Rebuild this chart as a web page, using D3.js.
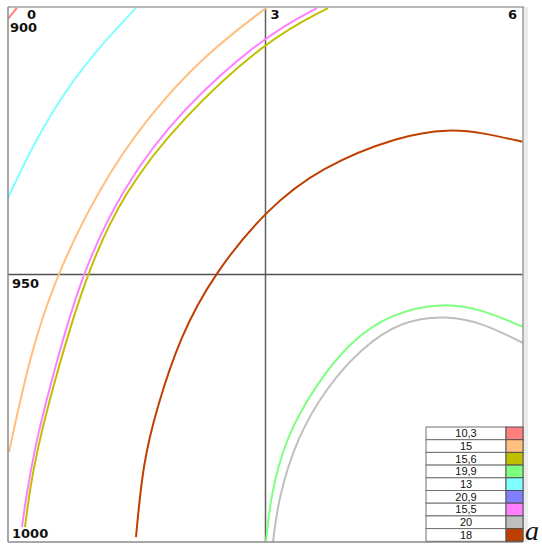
<!DOCTYPE html>
<html>
<head>
<meta charset="utf-8">
<script src="https://cdn.jsdelivr.net/npm/d3@7"></script>
<style>
  body { margin: 0; background: #fff; }
  svg { display: block; }
  .tick-label { font-family: "DejaVu Sans", Verdana, sans-serif; font-weight: bold; font-size: 13px; fill: #111; }
  .legend-label { font-family: "Liberation Sans", Arial, sans-serif; font-size: 11px; fill: #111; }
</style>
</head>
<body>
<svg id="chart" width="542" height="546"></svg>
<script>
// series labels and colours, in legend order
const seriesNames = ['10,3', '15', '15,6', '19,9', '13', '20,9', '15,5', '20', '18'];
const seriesColors = ['#ff7f7f', '#ffbf7f', '#bfbf00', '#7fff7f', '#7fffff', '#7f7fff', '#ff7fff', '#bfbfbf', '#bf3f00'];

// points: [x, y]
const s103 = [[0, 902.2], [0.11, 900]];
const s15 = [[3.006, 900.2], [2.284, 909.0], [1.619, 920.7], [1.072, 933.5], [0.559, 950.3], [0.256, 965.0], [0.012, 983.2]];
const s156 = [[3.728, 900.2], [3.006, 906.2], [2.004, 921.1], [1.34, 934.8], [0.897, 950.3], [0.489, 972.9], [0.35, 982.2], [0.256, 989.9], [0.198, 997.2]];
const s199 = [[3.006, 1000], [3.052, 992.1], [3.227, 980.6], [3.6, 970.3], [3.985, 962.6], [4.451, 957.3], [5.068, 955.2], [5.534, 956.6], [6.0, 959.8]];
const s13 = [[0, 935.7], [0.373, 923.0], [0.896, 910.3], [1.49, 900.2]];
const s209 = [];
const s155 = [[3.6, 900.2], [3.006, 905.2], [2.004, 919.3], [1.34, 933.6], [0.839, 950.3], [0.455, 972.9], [0.315, 982.2], [0.21, 991.6], [0.163, 997.2]];
const s20 = [[3.088, 1000], [3.146, 992.1], [3.367, 980.4], [3.717, 971], [4.101, 964.0], [4.567, 958.7], [5.115, 957.6], [5.534, 959.1], [6.0, 962.8]];
const s18 = [[1.491, 999.1], [1.573, 985.2], [1.736, 974.8], [2.004, 961.7], [2.388, 950.1], [3.018, 937.7], [3.635, 930.0], [4.567, 924.0], [5.15, 922.8], [5.532, 923.5], [5.998, 925.2]];

const seriesValues = [s103, s15, s156, s199, s13, s209, s155, s20, s18];

const xTicks = [0, 3, 6];
const yTicks = [900, 950, 1000];

const svg = d3.select('#chart');

const x = d3.scaleLinear().domain([0, 6]).range([8, 523]);
const y = d3.scaleLinear().domain([900, 1000]).range([7, 542]);

svg.append('defs')
    .append('clipPath')
    .attr('id', 'plot-clip')
    .append('rect')
    .attr('x', x(0))
    .attr('y', y(900))
    .attr('width', x(6) - x(0))
    .attr('height', y(1000) - y(900));

// right shadow strip
svg.append('rect')
    .attr('x', x(6) + 1)
    .attr('y', y(900))
    .attr('width', 4)
    .attr('height', y(1000) - y(900))
    .style('fill', '#ececec');

// centre cross lines
svg.append('line')
    .attr('x1', x(3)).attr('x2', x(3))
    .attr('y1', y(900)).attr('y2', y(1000))
    .style('stroke', '#606060')
    .style('stroke-width', 1.5);

svg.append('line')
    .attr('x1', x(0)).attr('x2', x(6))
    .attr('y1', y(950)).attr('y2', y(950))
    .style('stroke', '#505050')
    .style('stroke-width', 1.3);

// curves (B-spline smooths the hand-read points)
const line = d3.line()
    .x(d => x(d[0]))
    .y(d => y(d[1]))
    .curve(d3.curveBasis);

svg.append('g')
    .attr('clip-path', 'url(#plot-clip)')
    .selectAll('path')
    .data(seriesValues.map((pts, i) => ({pts, color: seriesColors[i]})).filter(d => d.pts.length > 1))
    .join('path')
        .attr('d', d => line(d.pts))
        .style('fill', 'none')
        .style('stroke', d => d.color)
        .style('stroke-width', 2);

// frame
svg.append('line')
    .attr('x1', x(0)).attr('x2', x(6) + 1)
    .attr('y1', y(900)).attr('y2', y(900))
    .style('stroke', '#b8b8b8')
    .style('stroke-width', 2);

svg.append('line')
    .attr('x1', x(0)).attr('x2', x(0))
    .attr('y1', y(900)).attr('y2', y(1000))
    .style('stroke', '#8a8a8a')
    .style('stroke-width', 1.5);

svg.append('line')
    .attr('x1', x(6)).attr('x2', x(6))
    .attr('y1', y(900)).attr('y2', y(1000))
    .style('stroke', '#9a9a9a')
    .style('stroke-width', 1.5);

svg.append('line')
    .attr('x1', x(0)).attr('x2', x(6))
    .attr('y1', y(1000)).attr('y2', y(1000))
    .style('stroke', '#8a8a8a')
    .style('stroke-width', 1.5);

// tick labels
const xAnchor = ['start', 'start', 'end'];
const xShift = [19, 5, -6];
svg.selectAll('.x-label')
    .data(xTicks)
    .join('text')
        .attr('class', 'tick-label x-label')
        .attr('x', (d, i) => x(d) + xShift[i])
        .attr('y', y(900) + 12)
        .attr('text-anchor', (d, i) => xAnchor[i])
        .text(d => d);

const yShift = [25, 13, -4];
svg.selectAll('.y-label')
    .data(yTicks)
    .join('text')
        .attr('class', 'tick-label y-label')
        .attr('x', (d, i) => x(0) + (i === 0 ? 2 : 4))
        .attr('y', (d, i) => y(d) + yShift[i])
        .text(d => d);

// legend table
const rowH = 12.7;
const legTop = 427;
const legLeft = 426;
const cellW = 80;
const swatchW = 17;

const rows = svg.append('g')
    .selectAll('g')
    .data(seriesNames)
    .join('g')
        .attr('transform', (d, i) => `translate(${legLeft},${legTop + i * rowH})`);

rows.append('rect')
    .attr('width', cellW)
    .attr('height', rowH)
    .style('fill', '#fff')
    .style('stroke', '#707070')
    .style('stroke-width', 1);

rows.append('rect')
    .attr('x', cellW)
    .attr('width', swatchW)
    .attr('height', rowH)
    .style('fill', (d, i) => seriesColors[i])
    .style('stroke', '#505050')
    .style('stroke-width', 1);

rows.append('text')
    .attr('class', 'legend-label')
    .attr('x', cellW / 2)
    .attr('y', rowH - 2.5)
    .attr('text-anchor', 'middle')
    .text(d => d);

// panel letter
svg.append('text')
    .attr('x', 525)
    .attr('y', 540)
    .style('font-family', '"Liberation Serif", "Times New Roman", serif')
    .style('font-style', 'italic')
    .style('font-size', '28px')
    .style('fill', '#111')
    .text('a');
</script>
</body>
</html>
